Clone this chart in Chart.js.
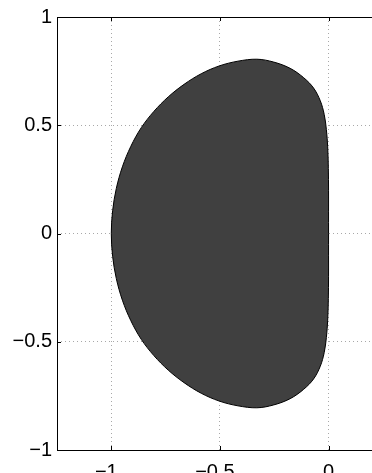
<!DOCTYPE html>
<html>
<head>
<meta charset="utf-8">
<script src="https://cdn.jsdelivr.net/npm/chart.js@4/dist/chart.umd.min.js"></script>
<style>
  html, body { margin: 0; padding: 0; background: #fff; }
  #wrap { width: 372px; height: 473px; position: relative; }
</style>
</head>
<body>
<div id="wrap"><canvas id="chart"></canvas></div>
<script>
// boundary of the shaded region (closed loop, counter-clockwise from the origin)
const boundaryX = [0, 0, 0, -0.001, -0.004, -0.01, -0.02, -0.038, -0.069, -0.115, -0.177, -0.253, -0.33,
    -0.417, -0.503, -0.586, -0.665, -0.738, -0.804, -0.862, -0.91, -0.949, -0.977, -0.994, -1.0,
    -0.994, -0.977, -0.949, -0.91, -0.862, -0.804, -0.738, -0.665, -0.586, -0.503, -0.417,
    -0.33, -0.253, -0.177, -0.115, -0.069, -0.038, -0.02, -0.01, -0.004, -0.001, 0, 0, 0];
const boundaryY = [0, 0.1, 0.2, 0.3, 0.4, 0.48, 0.55, 0.613, 0.672, 0.72, 0.763, 0.792, 0.805,
    0.796, 0.774, 0.738, 0.689, 0.631, 0.564, 0.489, 0.403, 0.308, 0.208, 0.105, 0,
    -0.105, -0.208, -0.308, -0.403, -0.489, -0.564, -0.631, -0.689, -0.738, -0.774, -0.796,
    -0.805, -0.792, -0.763, -0.72, -0.672, -0.613, -0.55, -0.48, -0.4, -0.3, -0.2, -0.1, 0];

const xTicks = [-1, -0.5, 0];
const yTicks = [-1, -0.5, 0, 0.5, 1];

const fmt = v => (v < 0 ? '\u2212' + String(-v) : String(v));

// axes frame (left, bottom, top) with short inner ticks
const framePlugin = {
    id: 'frame',
    afterDraw: function(chart) {
        const a = chart.chartArea;
        const ctx = chart.ctx;
        const xs = chart.scales.x, ys = chart.scales.y;
        ctx.save();
        ctx.strokeStyle = '#000';
        ctx.lineWidth = 1;
        ctx.beginPath();
        ctx.moveTo(a.left + 0.5, a.top + 0.5);
        ctx.lineTo(a.left + 0.5, a.bottom + 0.5);
        ctx.lineTo(a.right + 2, a.bottom + 0.5);
        ctx.moveTo(a.left + 0.5, a.top + 0.5);
        ctx.lineTo(a.right + 2, a.top + 0.5);
        xTicks.forEach(v => {
            const px = Math.round(xs.getPixelForValue(v)) + 0.5;
            ctx.moveTo(px, a.bottom);
            ctx.lineTo(px, a.bottom - 4);
            ctx.moveTo(px, a.top);
            ctx.lineTo(px, a.top + 4);
        });
        yTicks.forEach(v => {
            const py = Math.round(ys.getPixelForValue(v)) + 0.5;
            ctx.moveTo(a.left, py);
            ctx.lineTo(a.left + 4, py);
        });
        ctx.stroke();
        ctx.restore();
    }
};

const points = boundaryX.map((x, i) => ({ x: x, y: boundaryY[i] }));

new Chart(document.getElementById('chart').getContext('2d'), {
    type: 'scatter',
    data: {
        datasets: [{
            data: points,
            showLine: true,
            fill: 'shape',
            backgroundColor: '#404040',
            borderColor: '#000',
            borderWidth: 1,
            pointRadius: 0,
            tension: 0.35
        }]
    },
    options: {
        responsive: true,
        maintainAspectRatio: false,
        animation: false,
        layout: { padding: { top: 16, right: 0, left: 0, bottom: 0 } },
        plugins: { legend: { display: false }, tooltip: { enabled: false } },
        scales: {
            x: {
                type: 'linear',
                min: -1.25,
                max: 0.2,
                afterBuildTicks: function(scale) { scale.ticks = xTicks.map(v => ({ value: v })); },
                afterFit: function(scale) { scale.height = 23; },
                grid: { color: '#a8a8a8', drawTicks: false },
                border: { display: false, dash: [1, 3] },
                ticks: {
                    color: '#000',
                    padding: 10,
                    maxRotation: 0,
                    font: { family: 'Liberation Sans, Arial, sans-serif', size: 20 },
                    // negative labels sit a little left of their tick, as in the original
                    callback: v => (v < 0 ? fmt(v) + '\u2002' : fmt(v))
                }
            },
            y: {
                type: 'linear',
                min: -1,
                max: 1,
                afterBuildTicks: function(scale) { scale.ticks = yTicks.map(v => ({ value: v })); },
                afterFit: function(scale) { scale.width = 57; },
                grid: { color: '#a8a8a8', drawTicks: false },
                border: { display: false, dash: [1, 3] },
                ticks: {
                    color: '#000',
                    padding: 5,
                    font: { family: 'Liberation Sans, Arial, sans-serif', size: 20 },
                    callback: v => fmt(v)
                }
            }
        }
    },
    plugins: [framePlugin]
});
</script>
</body>
</html>
